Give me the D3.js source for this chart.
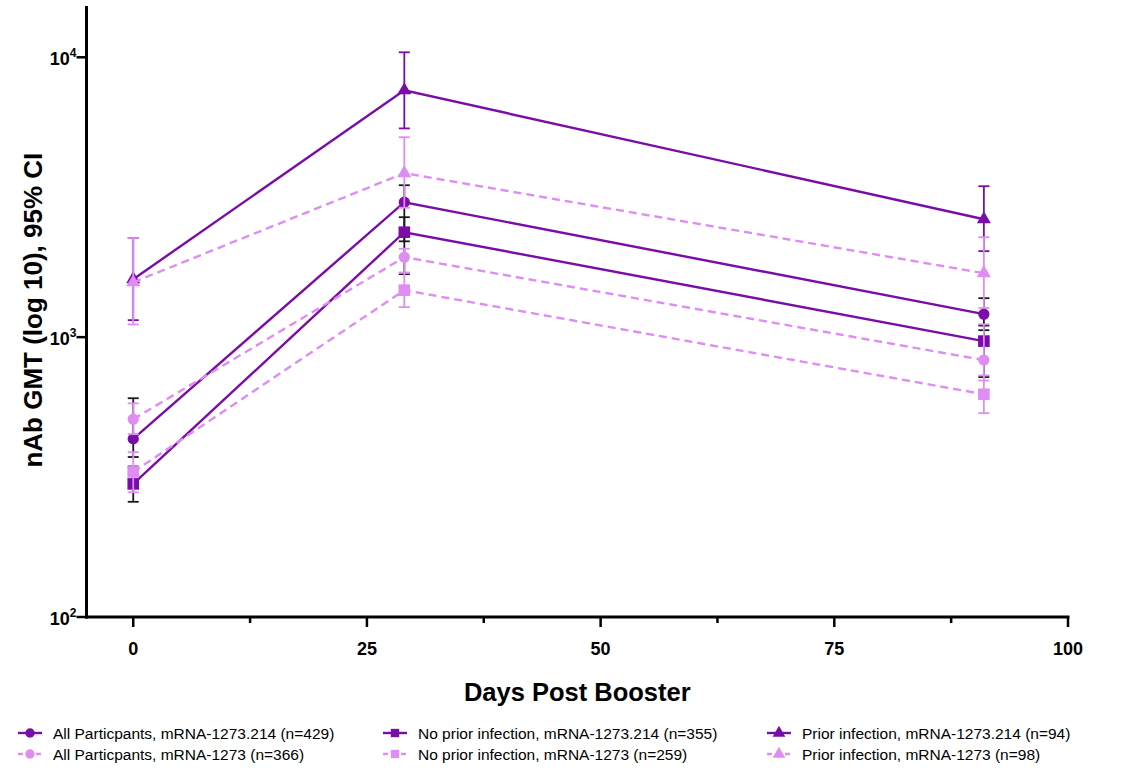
<!DOCTYPE html>
<html>
<head>
<meta charset="utf-8">
<script src="https://cdn.jsdelivr.net/npm/d3@7"></script>
<style>
  body { margin: 0; background: #fff; }
  svg { display: block; font-family: Arial, "Liberation Sans", sans-serif; }
</style>
</head>
<body>
<svg id="chart" width="1131" height="768"></svg>
<script>
// days of visits
const days = [0, 29, 91];

// GMT values and 95% CI
const all214 = [433, 3035, 1208];
const all214Lo = [373, 2200, 1059];
const all214Hi = [605, 3490, 1378];

const noPrior214 = [299, 2371, 968];
const noPrior214Lo = [258, 1680, 720];
const noPrior214Hi = [345, 2683, 1100];

const prior214 = [1611, 7620, 2637];
const prior214Lo = [1150, 5570, 2029];
const prior214Hi = [2261, 10420, 3462];

const all1273 = [509, 1931, 828];
const all1273Lo = [450, 1700, 700];
const all1273Hi = [580, 2070, 1112];

const noPrior1273 = [330, 1472, 625];
const noPrior1273Lo = [279, 1280, 535];
const noPrior1273Hi = [388, 1700, 730];

const prior1273 = [1570, 3855, 1693];
const prior1273Lo = [1110, 2900, 1271];
const prior1273Hi = [2261, 5180, 2276];

const xTicks = [0, 25, 50, 75, 100];
const yTicks = [100, 1000, 10000];

const dark = "#7a0ca8";
const light = "#df8cf3";

const series = [
    { name: "All Particpants, mRNA-1273.214 (n=429)", v: all214, lo: all214Lo, hi: all214Hi, color: dark, err: "#1a1a1a", dash: null, shape: "circle" },
    { name: "No prior infection, mRNA-1273.214 (n=355)", v: noPrior214, lo: noPrior214Lo, hi: noPrior214Hi, color: dark, err: "#1a1a1a", dash: null, shape: "square" },
    { name: "Prior infection, mRNA-1273.214 (n=94)", v: prior214, lo: prior214Lo, hi: prior214Hi, color: dark, err: dark, dash: null, shape: "triangle" },
    { name: "All Particpants, mRNA-1273 (n=366)", v: all1273, lo: all1273Lo, hi: all1273Hi, color: light, err: light, dash: "8,5", shape: "circle" },
    { name: "No prior infection, mRNA-1273 (n=259)", v: noPrior1273, lo: noPrior1273Lo, hi: noPrior1273Hi, color: light, err: light, dash: "8,5", shape: "square" },
    { name: "Prior infection, mRNA-1273 (n=98)", v: prior1273, lo: prior1273Lo, hi: prior1273Hi, color: light, err: light, dash: "8,5", shape: "triangle" },
];

const svg = d3.select("#chart");

const x = d3.scaleLinear().domain([-5, 100]).range([86.5, 1068]);
const y = d3.scaleLog().domain([100, 15250]).range([617, 6]);

const symbolType = (shape) =>
    shape === "circle" ? d3.symbolCircle : shape === "square" ? d3.symbolSquare : d3.symbolTriangle;
const symbolSize = { circle: 100, square: 135, triangle: 85 };

// data layers
const plot = svg.append("g");
const line = d3.line().x((d, i) => x(days[i])).y((d) => y(d));

series.forEach((s) => {
    const g = plot.append("g");
    // error bars
    days.forEach((d, i) => {
        const cx = x(d);
        g.append("line")
            .attr("x1", cx).attr("x2", cx)
            .attr("y1", y(s.lo[i])).attr("y2", y(s.hi[i]))
            .attr("stroke", s.err).attr("stroke-width", 1.8);
        [s.lo[i], s.hi[i]].forEach((val) => {
            g.append("line")
                .attr("x1", cx - 5.5).attr("x2", cx + 5.5)
                .attr("y1", y(val)).attr("y2", y(val))
                .attr("stroke", s.err).attr("stroke-width", 1.8);
        });
    });
    g.append("path")
        .datum(s.v)
        .attr("d", line)
        .attr("fill", "none")
        .attr("stroke", s.color)
        .attr("stroke-width", 2.4)
        .attr("stroke-dasharray", s.dash);
    g.selectAll("path.mark")
        .data(s.v)
        .enter()
        .append("path")
        .attr("class", "mark")
        .attr("d", d3.symbol().type(symbolType(s.shape)).size(symbolSize[s.shape]))
        .attr("transform", (d, i) => `translate(${x(days[i])},${y(d)})`)
        .attr("fill", s.color);
});

// x axis
const xAxis = svg.append("g").attr("transform", `translate(0,${y(100)})`);
xAxis.append("line")
    .attr("x1", x(-5) - 1.5).attr("x2", x(100) + 1.5)
    .attr("stroke", "#000").attr("stroke-width", 3);
d3.range(0, 101, 12.5).forEach((t) => {
    const major = t % 25 === 0;
    xAxis.append("line")
        .attr("x1", x(t)).attr("x2", x(t))
        .attr("y1", 0).attr("y2", major ? 10 : 6)
        .attr("stroke", "#000").attr("stroke-width", 2.5);
});
xAxis.selectAll("text.tick")
    .data(xTicks)
    .enter()
    .append("text")
    .attr("x", (d) => x(d))
    .attr("y", 38)
    .attr("text-anchor", "middle")
    .attr("font-size", 18)
    .attr("font-weight", "bold")
    .text((d) => d);

// y axis
const yAxis = svg.append("g").attr("transform", `translate(${x(-5)},0)`);
yAxis.append("line")
    .attr("y1", y(15250)).attr("y2", y(100) + 1.5)
    .attr("stroke", "#000").attr("stroke-width", 3);
yTicks.forEach((t) => {
    yAxis.append("line")
        .attr("x1", -10).attr("x2", 0)
        .attr("y1", y(t)).attr("y2", y(t))
        .attr("stroke", "#000").attr("stroke-width", 2.5);
    const lbl = yAxis.append("text")
        .attr("x", -10)
        .attr("y", y(t) + 8)
        .attr("text-anchor", "end")
        .attr("font-size", 18)
        .attr("font-weight", "bold");
    lbl.append("tspan").text("10");
    lbl.append("tspan").attr("font-size", 12).attr("dy", -8).text(Math.round(Math.log10(t)));
});

// axis titles
svg.append("text")
    .attr("x", x(47.5))
    .attr("y", 701)
    .attr("text-anchor", "middle")
    .attr("font-size", 25.5)
    .attr("font-weight", "bold")
    .text("Days Post Booster");

svg.append("text")
    .attr("transform", `translate(42,${y(1000) - 27}) rotate(-90)`)
    .attr("text-anchor", "middle")
    .attr("font-size", 26)
    .attr("font-weight", "bold")
    .text("nAb GMT (log 10), 95% CI");

// legend
const legendCols = [18, 383, 767];
const legendRows = [733, 754];
const legendOrder = [
    [0, 0, 0], [3, 0, 1],
    [1, 1, 0], [4, 1, 1],
    [2, 2, 0], [5, 2, 1],
];
legendOrder.forEach(([si, col, row]) => {
    const s = series[si];
    const g = svg.append("g").attr("transform", `translate(${legendCols[col]},${legendRows[row]})`);
    g.append("line")
        .attr("x1", 0).attr("x2", 24)
        .attr("stroke", s.color).attr("stroke-width", 2.4)
        .attr("stroke-dasharray", s.dash ? "5,4" : null);
    g.append("path")
        .attr("d", d3.symbol().type(symbolType(s.shape)).size(70))
        .attr("transform", "translate(12,0)")
        .attr("fill", s.color);
    g.append("text")
        .attr("x", 35)
        .attr("y", 5.5)
        .attr("font-size", 15.5)
        .text(s.name);
});
</script>
</body>
</html>
